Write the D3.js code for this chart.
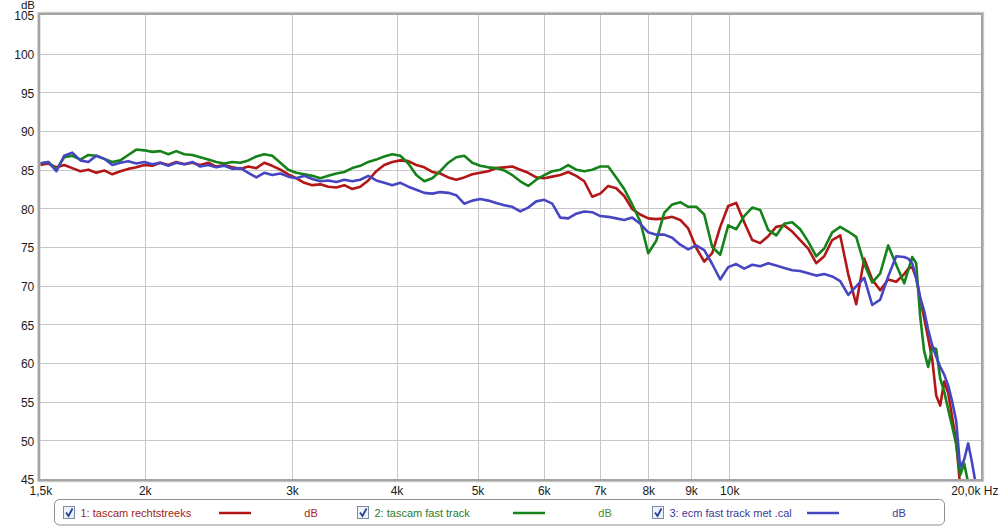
<!DOCTYPE html>
<html><head><meta charset="utf-8">
<script src="https://cdn.jsdelivr.net/npm/d3@7"></script>
<style>
html,body{margin:0;padding:0;background:#fff;}
svg{display:block;font-family:"Liberation Sans",Arial,sans-serif;}
</style></head>
<body>
<svg id="chart" width="1000" height="527"></svg>
<script>
// ---- data ----
const freqs = [1500,1533,1568,1602,1638,1675,1712,1750,1789,1829,1870,1911,1954,1997,2042,2087,2134,2181,2230,2280,
2330,2382,2435,2490,2545,2602,2660,2719,2779,2841,2905,2969,3035,3103,3172,3243,3315,3389,3464,3541,
3620,3701,3783,3867,3954,4042,4132,4224,4318,4414,4512,4613,4715,4820,4928,5037,5150,5264,5382,5501,
5624,5749,5877,6008,6142,6279,6418,6561,6708,6857,7010,7166,7325,7488,7655,7826,8000,8178,8360,8546,
8737,8931,9130,9334,9541,9754,9971,10193,10420,10652,10889,11132,11380,11633,11892,12157,12428,12705,12988,13277,
13573,13875,14184,14500,14823,15153,15490,15835,
16188,16367,16548,16731,16917,17104,17293,17485,17679,17874,18072,18272,18475,18679,18886,19095,19307,19521,19737,20000];

const redDb = [
85.6,85.8,85.3,85.6,85.2,84.8,85.0,84.6,84.9,84.4,
84.8,85.1,85.3,85.6,85.5,85.9,85.6,86.0,85.7,85.9,
85.6,85.9,85.4,85.6,85.3,85.1,85.4,85.2,85.9,85.5,
85.0,84.4,83.9,83.3,83.0,83.1,82.8,82.7,83.0,82.5,
82.8,83.6,84.8,85.6,86.0,86.2,86.1,85.6,85.3,84.7,
84.5,84.0,83.7,84.0,84.4,84.6,84.8,85.2,85.3,85.4,
85.0,84.6,84.0,83.9,84.1,84.3,84.7,84.2,83.5,81.5,
81.9,82.9,82.6,81.6,79.9,79.2,78.7,78.6,78.7,78.9,
78.5,77.4,74.9,73.1,74.2,77.6,80.3,80.7,78.2,75.9,
75.5,76.4,77.6,77.8,77.0,75.9,74.8,72.9,73.8,75.9,
76.5,71.5,67.6,73.5,70.8,69.4,70.8,70.5,
71.5,72.2,72.4,71.0,68.3,65.8,63.2,60.5,55.8,54.5,
57.6,56.1,53.0,49.8,44.0,42,42,42,42,
42];

const greenDb = [
85.8,86.0,85.0,86.6,86.8,86.3,86.9,86.8,86.4,86.0,
86.2,86.9,87.6,87.5,87.3,87.4,87.0,87.4,87.0,86.9,
86.6,86.3,86.0,85.8,86.0,85.9,86.2,86.7,87.0,86.8,
85.9,85.0,84.6,84.4,84.2,83.9,84.2,84.5,84.7,85.2,
85.5,86.0,86.3,86.7,87.0,86.8,85.8,84.3,83.5,83.9,
84.8,85.9,86.6,86.8,85.9,85.5,85.3,85.2,84.9,84.3,
83.5,82.9,83.7,84.3,84.8,85.0,85.6,85.0,84.8,85.0,
85.4,85.4,84.0,82.5,80.5,78.3,74.2,75.8,79.4,80.5,
80.8,80.2,80.2,79.2,75.0,74.0,77.8,77.3,79.0,80.1,
79.8,77.2,76.5,78.0,78.2,77.3,75.7,73.8,74.8,76.9,
77.6,77.0,76.3,72.8,70.4,71.6,75.2,72.7,
70.3,72.0,73.7,72.9,66.0,61.5,59.5,62.0,61.8,58.0,
56.3,54.0,51.8,49.5,45.5,47.0,44.5,42,42,
42];

const blueDb = [
85.8,86.0,84.8,86.8,87.2,86.2,86.0,86.8,86.4,85.6,
85.9,86.1,85.8,86.0,85.7,85.9,85.5,85.9,85.7,86.0,
85.4,85.6,85.3,85.5,85.1,85.2,84.6,84.0,84.6,84.3,
84.5,84.1,83.9,84.2,83.8,83.5,83.6,83.4,83.7,83.5,
83.7,84.2,83.6,83.3,83.0,83.3,82.8,82.4,82.0,81.9,
82.1,82.0,81.7,80.6,81.0,81.2,81.0,80.7,80.4,80.2,
79.6,80.1,80.9,81.1,80.6,78.8,78.7,79.3,79.6,79.5,
79.0,78.9,78.7,78.5,78.8,78.0,76.9,76.6,76.6,76.2,
75.3,74.7,75.2,74.6,72.8,70.8,72.4,72.8,72.2,72.7,
72.5,72.9,72.6,72.3,72.0,71.9,71.6,71.3,71.5,71.2,
70.6,68.8,69.9,71.0,67.5,68.2,71.2,73.8,
73.7,73.5,72.9,71.0,68.5,66.7,64.3,62.3,60.8,59.5,
58.5,57.1,55.0,52.5,46.5,47.5,49.6,47.0,44.0,
42];

const xTickValues = [1500,2000,3000,4000,5000,6000,7000,8000,9000,10000,20000];
const xTickLabels = ["1,5k","2k","3k","4k","5k","6k","7k","8k","9k","10k","20,0k Hz"];
const yTickValues = [45,50,55,60,65,70,75,80,85,90,95,100,105];

const series = [
  {name:"1: tascam rechtstreeks", values:redDb, color:"#b31616", text:"#a01c1c", unitColor:"#b02020"},
  {name:"2: tascam fast track", values:greenDb, color:"#15821a", text:"#2b7a2b", unitColor:"#4c8c2c"},
  {name:"3: ecm fast track met .cal", values:blueDb, color:"#4646c2", text:"#3c3c96", unitColor:"#3c3c96"}
];

// ---- layout ----
const svg = d3.select("#chart");
const L = 40.3, R = 981, T = 15, B = 479;
const x = d3.scaleLog().domain([1500,20000]).range([L,R]);
const y = d3.scaleLinear().domain([45,105]).range([B,T]);

svg.append("rect").attr("x",L).attr("y",T).attr("width",R-L).attr("height",B-T).attr("fill","#fff");

// grid
const grid = svg.append("g");
grid.selectAll("line.h").data(yTickValues.filter(v=>v>45&&v<105)).join("line")
  .attr("x1",L).attr("x2",R).attr("y1",d=>Math.round(y(d))+0.5).attr("y2",d=>Math.round(y(d))+0.5)
  .attr("stroke","#c8c8c8").attr("stroke-width",1);
grid.selectAll("line.v").data(xTickValues.filter(v=>v>1500&&v<20000)).join("line")
  .attr("y1",T).attr("y2",B).attr("x1",d=>Math.round(x(d))+0.5).attr("x2",d=>Math.round(x(d))+0.5)
  .attr("stroke","#c8c8c8").attr("stroke-width",1);

svg.append("clipPath").attr("id","clip").append("rect")
  .attr("x",L).attr("y",T).attr("width",R-L).attr("height",B-T);

const line = d3.line().x((d,i)=>x(freqs[i])).y(d=>y(d)).curve(d3.curveLinear);
const lines = svg.append("g").attr("clip-path","url(#clip)");
series.forEach(s=>{
  lines.append("path").datum(s.values).attr("d",line)
    .attr("fill","none").attr("stroke",s.color).attr("stroke-width",2.6)
    .attr("stroke-linejoin","round");
});

// frame
svg.append("rect").attr("x",L-2.5).attr("y",T-2.5).attr("width",R-L+5).attr("height",B-T+5)
  .attr("fill","none").attr("stroke","#dcdcdc").attr("stroke-width",1.5);
svg.append("rect").attr("x",L-1.2).attr("y",T-1.2).attr("width",R-L+2.4).attr("height",B-T+2.4)
  .attr("fill","none").attr("stroke","#a4a4a4").attr("stroke-width",2.4);

// axes
const yAxis = svg.append("g").attr("transform",`translate(${L-1},1)`)
  .call(d3.axisLeft(y).tickValues(yTickValues).tickSize(0).tickPadding(5).tickFormat(d3.format("d")));
yAxis.select(".domain").remove();
yAxis.selectAll("text").attr("font-size",12).attr("fill","#1a1a1a").attr("font-family","Liberation Sans, Arial, sans-serif");

const xAxis = svg.append("g").attr("transform",`translate(0,${B})`)
  .call(d3.axisBottom(x).tickValues(xTickValues).tickSize(0).tickPadding(7).tickFormat((d,i)=>xTickLabels[i]));
xAxis.select(".domain").remove();
xAxis.selectAll("text").attr("font-size",12).attr("fill","#1a1a1a").attr("font-family","Liberation Sans, Arial, sans-serif");
xAxis.selectAll(".tick").filter(d=>d===20000).select("text")
  .attr("text-anchor","end").attr("x",998-x(20000));

svg.append("text").attr("x",28).attr("y",8.5).attr("text-anchor","middle")
  .attr("font-size",11.5).attr("fill","#1a1a1a").text("dB");

// legend
const lg = svg.append("g");
lg.append("rect").attr("x",54.5).attr("y",499.5).attr("width",890).attr("height",25.5).attr("rx",5)
  .attr("fill","#fff").attr("stroke","#8e8e8e").attr("stroke-width",1);
const itemX = [63,357,652];
const lineX = [219,513,807];
const unitX = [311,605,899];
series.forEach((s,i)=>{
  const g = lg.append("g");
  g.append("rect").attr("x",itemX[i]+0.5).attr("y",506.5).attr("width",11).attr("height",12)
    .attr("fill","#eef2f8").attr("stroke","#7b8aa6").attr("stroke-width",1);
  g.append("path").attr("d",`M${itemX[i]+3},${512.5} L${itemX[i]+5.5},${516} L${itemX[i]+9.5},${508.5}`)
    .attr("fill","none").attr("stroke","#24459a").attr("stroke-width",1.8);
  g.append("text").attr("x",itemX[i]+17.5).attr("y",517).attr("font-size",11)
    .attr("fill",s.text).text(s.name);
  g.append("line").attr("x1",lineX[i]).attr("x2",lineX[i]+32).attr("y1",513).attr("y2",513)
    .attr("stroke",s.color).attr("stroke-width",2.5);
  g.append("text").attr("x",unitX[i]).attr("y",517).attr("font-size",11).attr("text-anchor","middle")
    .attr("fill",s.unitColor).text("dB");
});
</script>
</body></html>
